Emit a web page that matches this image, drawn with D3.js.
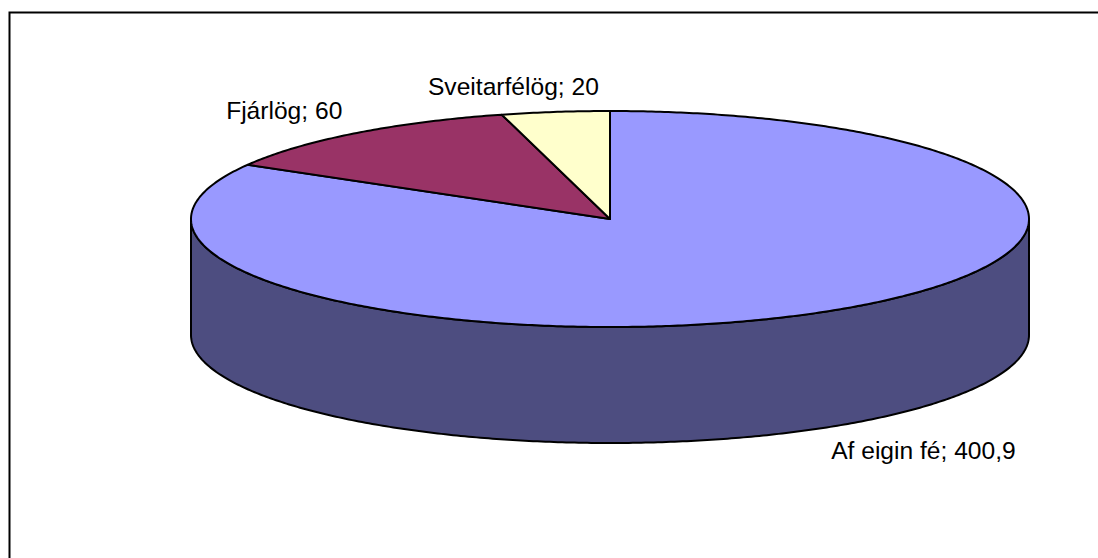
<!DOCTYPE html>
<html>
<head>
<meta charset="utf-8">
<script src="https://cdn.jsdelivr.net/npm/d3@7"></script>
<style>
  html, body { margin: 0; padding: 0; background: #fff; }
  svg { display: block; }
  text { font-family: "Liberation Sans", Arial, sans-serif; }
</style>
</head>
<body>
<script>
// Fjármögnun: skipting eftir uppruna
const categories = ["Af eigin fé", "Fjárlög", "Sveitarfélög"];
const values = [400.9, 60, 20];
const valueLabels = ["400,9", "60", "20"];
const topColors = ["#9999ff", "#993366", "#ffffcc"];
const sideColors = ["#4d4d80", "#4d1a33", "#808066"];

const W = 1098, H = 558;
const cx = 610, cy = 219, rx = 419, ry = 108, depth = 116;

const svg = d3.select("body").append("svg")
  .attr("width", W).attr("height", H);

// chart frame
svg.append("rect")
  .attr("x", 9.5).attr("y", 12.5)
  .attr("width", W + 20).attr("height", H + 20)
  .attr("fill", "#fff").attr("stroke", "#000").attr("stroke-width", 2);

const topColor = d3.scaleOrdinal().domain(categories).range(topColors);
const sideColor = d3.scaleOrdinal().domain(categories).range(sideColors);

const pie = d3.pie().sort(null).value(d => d.value);
const data = categories.map((c, i) => ({ name: c, value: values[i], label: valueLabels[i] }));
const arcs = pie(data);

// angle (clockwise from 12 o'clock) -> point on the tilted disc
const px = a => cx + rx * Math.sin(a);
const py = (a, z = 0) => cy - ry * Math.cos(a) + z;

const line = d3.line().x(d => d[0]).y(d => d[1]);

function ring(a0, a1, z) {
  const n = Math.max(2, Math.ceil((a1 - a0) / 0.01));
  return d3.range(n + 1).map(i => {
    const a = a0 + (a1 - a0) * i / n;
    return [px(a), py(a, z)];
  });
}

// front wall: only the part facing the viewer (between 3 and 9 o'clock)
const frontLo = Math.PI / 2, frontHi = 3 * Math.PI / 2;
const walls = svg.append("g");
arcs.forEach(d => {
  const a0 = Math.max(d.startAngle, frontLo), a1 = Math.min(d.endAngle, frontHi);
  if (a1 <= a0) return;
  const pts = ring(a0, a1, 0).concat(ring(a0, a1, depth).reverse());
  walls.append("path")
    .attr("d", line(pts) + "Z")
    .attr("fill", sideColor(d.data.name))
    .attr("stroke", "#000").attr("stroke-width", 2)
    .attr("stroke-linejoin", "round");
});

// top faces
const tops = svg.append("g");
arcs.forEach(d => {
  const pts = [[cx, cy]].concat(ring(d.startAngle, d.endAngle, 0));
  tops.append("path")
    .attr("d", line(pts) + "Z")
    .attr("fill", topColor(d.data.name))
    .attr("stroke", "#000").attr("stroke-width", 2)
    .attr("stroke-linejoin", "round");
});

// data labels "name; value", placed off the slice's mid-angle on the rim
const labelAnchor = ["start", "end", "middle"];
const labelShift = [[12, 30], [-13, -14], [-42, -17]];
svg.append("g").selectAll("text")
  .data(arcs)
  .join("text")
  .attr("x", (d, i) => px((d.startAngle + d.endAngle) / 2) + labelShift[i][0])
  .attr("y", (d, i) => {
    const a = (d.startAngle + d.endAngle) / 2;
    const front = a > frontLo && a < frontHi;
    return py(a, front ? depth : 0) + labelShift[i][1];
  })
  .attr("text-anchor", (d, i) => labelAnchor[i])
  .attr("font-size", 24.6)
  .attr("fill", "#000")
  .text(d => `${d.data.name}; ${d.data.label}`);
</script>
</body>
</html>
